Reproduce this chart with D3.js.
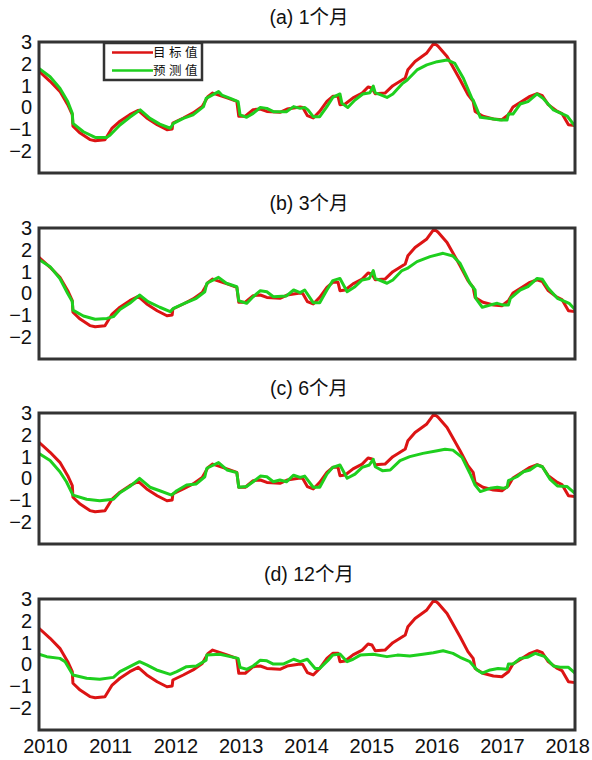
<!DOCTYPE html>
<html>
<head>
<meta charset="utf-8">
<script src="https://cdn.jsdelivr.net/npm/d3@7"></script>
<style>
  body { margin: 0; background: #fff; }
  svg { display: block; font-family: "Liberation Sans", Arial, "Noto Sans CJK SC", sans-serif; }
</style>
</head>
<body>
<div id="chart"></div>
<script>
// target series (same in every panel)
var targetDates = [2009.91, 2010.08, 2010.23, 2010.35, 2010.42, 2010.43, 2010.54, 2010.69, 2010.77, 2010.92,
  2011.03, 2011.15, 2011.30, 2011.43, 2011.56, 2011.72, 2011.87, 2011.95, 2011.96, 2012.12,
  2012.27, 2012.41, 2012.50, 2012.57, 2012.79, 2012.94, 2012.97, 2013.07, 2013.19, 2013.30,
  2013.40, 2013.60, 2013.71, 2013.91, 2013.95, 2014.02, 2014.11, 2014.21, 2014.32, 2014.41,
  2014.49, 2014.52, 2014.60, 2014.72, 2014.86, 2014.95, 2015.01, 2015.06, 2015.21, 2015.33,
  2015.52, 2015.56, 2015.67, 2015.85, 2015.96, 2016.02, 2016.16, 2016.36, 2016.48, 2016.56,
  2016.59, 2016.71, 2016.87, 2017.00, 2017.10, 2017.17, 2017.31, 2017.43, 2017.54, 2017.62,
  2017.71, 2017.85, 2017.92, 2018.02, 2018.12];
var targetValues = [1.66, 1.2, 0.74, 0.13, -0.33, -0.86, -1.17, -1.47, -1.52, -1.48,
  -0.94, -0.63, -0.33, -0.13, -0.48, -0.79, -1.02, -0.98, -0.71, -0.48,
  -0.25, 0.05, 0.51, 0.66, 0.44, 0.28, -0.4, -0.4, -0.1, -0.07,
  -0.18, -0.22, -0.07, 0.02, 0.0, -0.37, -0.48, -0.18, 0.28, 0.51,
  0.51, 0.13, 0.16, 0.44, 0.66, 0.94, 0.89, 0.63, 0.66, 1.0,
  1.35, 1.73, 2.11, 2.5, 2.95, 2.82, 2.34, 1.27, 0.59, 0.28,
  -0.18, -0.4, -0.53, -0.56, -0.33, 0.02, 0.28, 0.51, 0.63, 0.54,
  0.13, -0.18, -0.28, -0.79, -0.83];

// (a) 1 month prediction
var pred1Dates = [2009.91, 2010.08, 2010.23, 2010.35, 2010.42, 2010.43, 2010.59, 2010.77, 2010.95, 2011.00,
  2011.15, 2011.30, 2011.46, 2011.61, 2011.76, 2011.92, 2011.97, 2012.12, 2012.27, 2012.43,
  2012.47, 2012.66, 2012.71, 2012.84, 2012.96, 2012.99, 2013.09, 2013.19, 2013.30, 2013.40,
  2013.50, 2013.70, 2013.81, 2013.91, 2013.98, 2014.03, 2014.11, 2014.21, 2014.32, 2014.41,
  2014.52, 2014.55, 2014.64, 2014.75, 2014.87, 2014.98, 2015.03, 2015.06, 2015.24, 2015.33,
  2015.47, 2015.55, 2015.70, 2015.85, 2016.01, 2016.16, 2016.28, 2016.41, 2016.54, 2016.56,
  2016.67, 2016.82, 2016.97, 2017.08, 2017.10, 2017.17, 2017.28, 2017.40, 2017.54, 2017.63,
  2017.79, 2018.00, 2018.12];
var pred1Values = [1.79, 1.41, 0.88, 0.27, -0.27, -0.73, -1.11, -1.37, -1.37, -1.26,
  -0.8, -0.45, -0.11, -0.5, -0.76, -0.95, -0.73, -0.5, -0.34, 0.04,
  0.42, 0.73, 0.57, 0.42, 0.27, -0.34, -0.45, -0.27, 0.0, -0.04,
  -0.19, -0.19, 0.04, -0.04, 0.0, -0.11, -0.42, -0.42, 0.04, 0.46,
  0.62, 0.19, 0.0, 0.34, 0.62, 0.68, 0.98, 0.68, 0.46, 0.62,
  1.08, 1.26, 1.72, 1.95, 2.1, 2.18, 2.02, 1.34, 0.42, 0.34,
  -0.45, -0.5, -0.57, -0.57, -0.3, -0.3, 0.16, 0.27, 0.62, 0.42,
  -0.11, -0.39, -0.85];

// (b) 3 months
var pred3Dates = [2009.91, 2010.08, 2010.23, 2010.35, 2010.42, 2010.43, 2010.59, 2010.77, 2010.95, 2011.05,
  2011.15, 2011.30, 2011.45, 2011.58, 2011.76, 2011.92, 2011.97, 2012.12, 2012.32, 2012.45,
  2012.48, 2012.66, 2012.78, 2012.94, 2012.97, 2013.09, 2013.19, 2013.30, 2013.40, 2013.50,
  2013.70, 2013.81, 2013.91, 2013.98, 2014.11, 2014.21, 2014.32, 2014.41, 2014.52, 2014.63,
  2014.75, 2014.86, 2014.97, 2015.03, 2015.06, 2015.24, 2015.33, 2015.47, 2015.55, 2015.70,
  2015.90, 2016.10, 2016.25, 2016.36, 2016.51, 2016.59, 2016.60, 2016.70, 2016.82, 2016.93,
  2017.02, 2017.10, 2017.13, 2017.28, 2017.40, 2017.54, 2017.62, 2017.71, 2017.85, 2017.97,
  2018.03, 2018.12];
var pred3Values = [1.56, 1.23, 0.69, 0.0, -0.37, -0.76, -1.03, -1.18, -1.14, -1.06,
  -0.73, -0.45, -0.07, -0.37, -0.63, -0.83, -0.68, -0.48, -0.22, 0.08,
  0.47, 0.74, 0.47, 0.31, -0.33, -0.45, -0.15, 0.13, 0.08, -0.15,
  -0.11, 0.16, 0.04, 0.16, -0.42, -0.42, 0.16, 0.59, 0.69, 0.08,
  0.31, 0.62, 0.69, 1.05, 0.69, 0.47, 0.62, 1.05, 1.15, 1.46,
  1.69, 1.84, 1.72, 1.38, 0.47, 0.16, -0.22, -0.63, -0.53, -0.45,
  -0.53, -0.53, -0.22, 0.16, 0.31, 0.69, 0.65, 0.24, -0.22, -0.37,
  -0.45, -0.73];

// (c) 6 months
var pred6Dates = [2009.91, 2010.08, 2010.23, 2010.33, 2010.43, 2010.64, 2010.84, 2011.05, 2011.15, 2011.30,
  2011.45, 2011.61, 2011.76, 2011.94, 2012.02, 2012.17, 2012.32, 2012.45, 2012.48, 2012.66,
  2012.79, 2012.94, 2012.97, 2013.09, 2013.19, 2013.30, 2013.40, 2013.50, 2013.60, 2013.70,
  2013.81, 2013.91, 2013.98, 2014.11, 2014.21, 2014.32, 2014.41, 2014.52, 2014.63, 2014.75,
  2014.86, 2014.97, 2015.03, 2015.06, 2015.17, 2015.29, 2015.44, 2015.59, 2015.79, 2016.01,
  2016.13, 2016.25, 2016.39, 2016.51, 2016.59, 2016.67, 2016.82, 2016.93, 2017.02, 2017.08,
  2017.10, 2017.23, 2017.33, 2017.43, 2017.54, 2017.62, 2017.74, 2017.85, 2018.00, 2018.12];
var pred6Values = [1.15, 0.82, 0.31, -0.15, -0.76, -0.95, -1.02, -0.95, -0.65, -0.37,
  0.01, -0.4, -0.56, -0.76, -0.56, -0.3, -0.25, 0.08, 0.47, 0.73,
  0.39, 0.27, -0.4, -0.37, -0.15, 0.11, 0.08, -0.15, -0.07, -0.15,
  0.15, 0.05, 0.11, -0.4, -0.4, 0.2, 0.51, 0.62, 0.01, 0.2,
  0.51, 0.62, 0.88, 0.54, 0.36, 0.39, 0.82, 1.0, 1.15, 1.27,
  1.34, 1.3, 0.97, 0.24, -0.3, -0.6, -0.45, -0.4, -0.45, -0.4,
  -0.1, 0.08, 0.31, 0.39, 0.62, 0.54, -0.04, -0.34, -0.37, -0.68];

// (d) 12 months
var pred12Dates = [2009.91, 2010.03, 2010.23, 2010.31, 2010.43, 2010.64, 2010.84, 2011.05, 2011.15, 2011.30,
  2011.45, 2011.56, 2011.71, 2011.92, 2012.02, 2012.17, 2012.32, 2012.47, 2012.48, 2012.68,
  2012.84, 2012.96, 2012.99, 2013.09, 2013.19, 2013.30, 2013.40, 2013.50, 2013.65, 2013.81,
  2013.91, 2014.02, 2014.14, 2014.21, 2014.34, 2014.41, 2014.52, 2014.63, 2014.72, 2014.83,
  2015.03, 2015.24, 2015.40, 2015.59, 2015.79, 2015.95, 2016.10, 2016.25, 2016.36, 2016.51,
  2016.62, 2016.70, 2016.82, 2016.94, 2017.08, 2017.10, 2017.17, 2017.28, 2017.39, 2017.51,
  2017.66, 2017.79, 2017.89, 2018.02, 2018.12];
var pred12Values = [0.47, 0.36, 0.28, 0.13, -0.48, -0.63, -0.68, -0.59, -0.33, -0.1,
  0.13, -0.02, -0.25, -0.45, -0.33, -0.1, -0.07, 0.2, 0.43, 0.47,
  0.36, 0.28, -0.13, -0.22, -0.07, 0.2, 0.17, 0.02, 0.02, 0.24,
  0.13, 0.24, -0.18, -0.18, 0.2, 0.43, 0.48, 0.13, 0.24, 0.43,
  0.47, 0.36, 0.43, 0.39, 0.47, 0.54, 0.63, 0.51, 0.33, 0.13,
  -0.25, -0.4, -0.25, -0.18, -0.22, 0.02, 0.02, 0.28, 0.33, 0.51,
  0.36, -0.07, -0.13, -0.13, -0.4];

var panelTitles = ['(a) 1个月', '(b) 3个月', '(c) 6个月', '(d) 12个月'];
var yTicks = [-2, -1, 0, 1, 2, 3];
var xTicks = [2010, 2011, 2012, 2013, 2014, 2015, 2016, 2017, 2018];
var legendLabels = ['目标值', '预测值'];

var predDates = [pred1Dates, pred3Dates, pred6Dates, pred12Dates];
var predValues = [pred1Values, pred3Values, pred6Values, pred12Values];

var width = 592, height = 760;
var left = 39, right = 575;
var panelTops = [42, 228, 413, 599];
var panelH = 131;
var redColor = '#dc1414';
var greenColor = '#1ecf1e';

var svg = d3.select('#chart').append('svg')
  .attr('width', width)
  .attr('height', height);

var x = d3.scaleLinear().domain([2009.91, 2018.12]).range([left, right]);

function zip(ds, vs) {
  return ds.map(function(d, i) { return { date: d, value: vs[i] }; });
}

var target = zip(targetDates, targetValues);

panelTitles.forEach(function(title, p) {
  var top = panelTops[p];
  var y = d3.scaleLinear().domain([-3, 3]).range([top + panelH, top]);

  var g = svg.append('g').attr('class', 'panel');

  g.append('text')
    .attr('x', (left + right) / 2 + 2)
    .attr('y', top - 18)
    .attr('text-anchor', 'middle')
    .style('font-size', '19.5px')
    .attr('fill', '#111')
    .text(title);

  g.append('g')
    .attr('class', 'yaxis')
    .attr('transform', 'translate(' + left + ',0)')
    .call(d3.axisLeft(y).tickValues(yTicks).tickSize(0).tickPadding(7).tickFormat(d3.format('d')))
    .call(function(s) {
      s.select('.domain').remove();
      s.selectAll('text').style('font-size', '20px').attr('fill', '#111')
        .style('font-family', '"Liberation Sans", Arial, sans-serif');
    });

  if (p === 3) {
    g.append('g')
      .attr('class', 'xaxis')
      .attr('transform', 'translate(0,' + (top + panelH) + ')')
      .call(d3.axisBottom(x).tickValues(xTicks).tickSize(0).tickPadding(9).tickFormat(d3.format('d')))
      .call(function(s) {
        s.select('.domain').remove();
        s.selectAll('text').style('font-size', '20px').attr('fill', '#111')
          .style('font-family', '"Liberation Sans", Arial, sans-serif');
      });
  }

  var line = d3.line()
    .x(function(d) { return x(d.date); })
    .y(function(d) { return y(d.value); });

  g.append('path')
    .datum(target)
    .attr('fill', 'none')
    .attr('stroke', redColor)
    .attr('stroke-width', 3)
    .attr('stroke-linejoin', 'round')
    .attr('d', line);

  g.append('path')
    .datum(zip(predDates[p], predValues[p]))
    .attr('fill', 'none')
    .attr('stroke', greenColor)
    .attr('stroke-width', 3)
    .attr('stroke-linejoin', 'round')
    .attr('d', line);

  g.append('rect')
    .attr('x', left)
    .attr('y', top)
    .attr('width', right - left)
    .attr('height', panelH)
    .attr('fill', 'none')
    .attr('stroke', '#333')
    .attr('stroke-width', 3);

  // legend only in the first panel
  if (p === 0) {
    var lg = g.append('g').attr('class', 'legend');
    lg.append('rect')
      .attr('x', 104).attr('y', 43)
      .attr('width', 98).attr('height', 37)
      .attr('fill', '#fff')
      .attr('stroke', '#333')
      .attr('stroke-width', 2.5);
    var colors = [redColor, greenColor];
    legendLabels.forEach(function(lab, i) {
      var ly = 52.5 + i * 18;
      lg.append('line')
        .attr('x1', 112).attr('x2', 153)
        .attr('y1', ly).attr('y2', ly)
        .attr('stroke', colors[i])
        .attr('stroke-width', 2.5);
      lg.append('text')
        .attr('x', 153)
        .attr('y', ly + 4.5)
        .style('font-size', '12.5px')
        .style('letter-spacing', '3.5px')
        .style('font-family', '"Noto Sans CJK SC", sans-serif')
        .attr('fill', '#111')
        .text(lab);
    });
  }
});
</script>
</body>
</html>
